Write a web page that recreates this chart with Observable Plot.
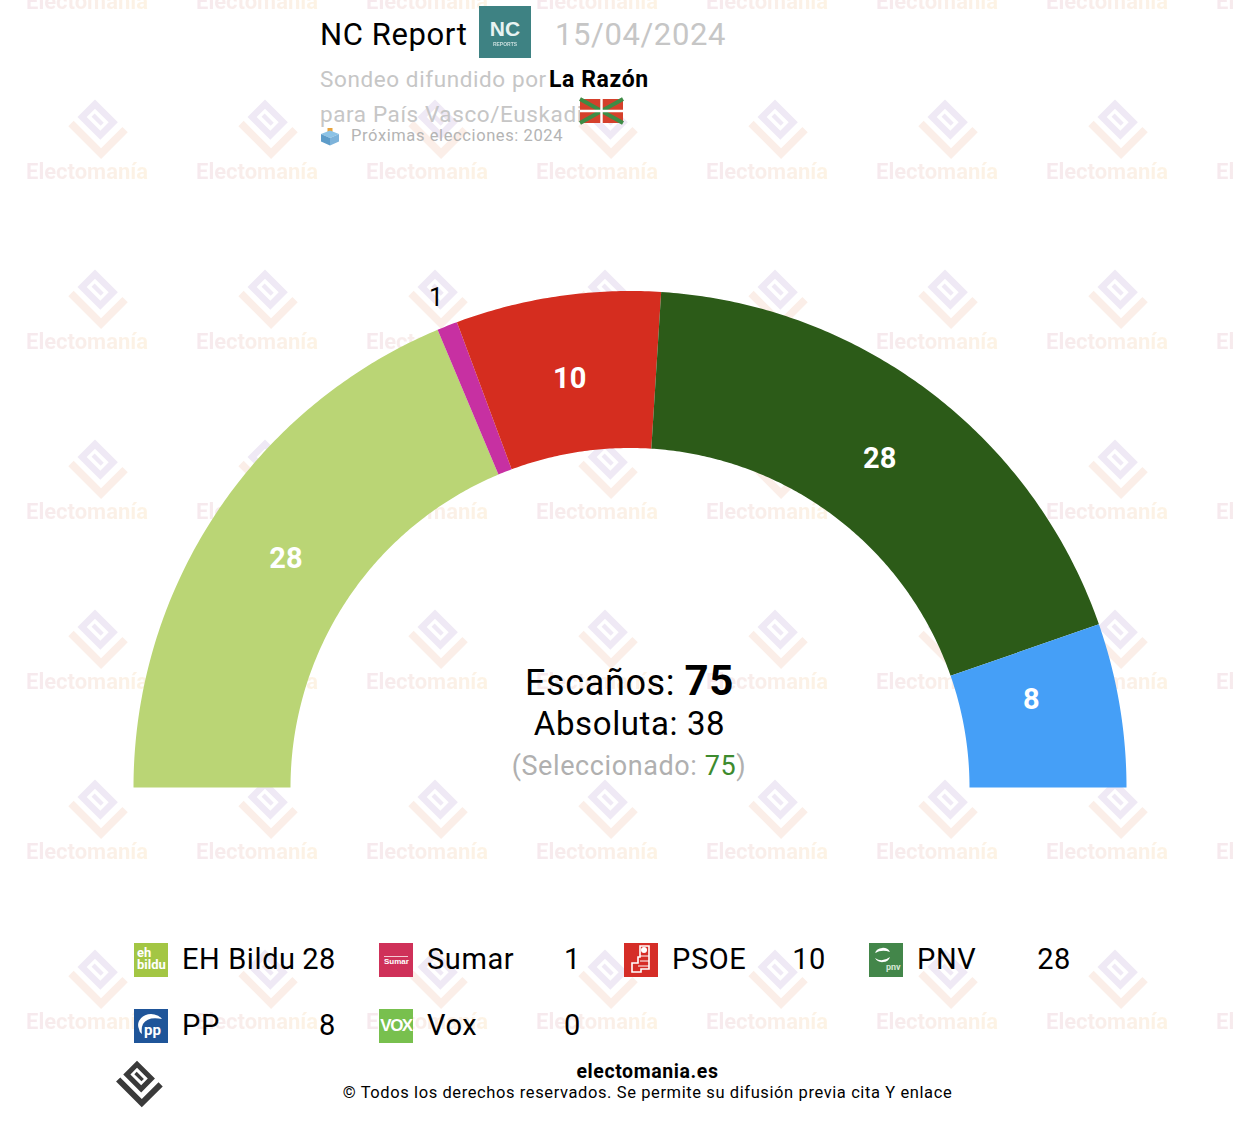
<!DOCTYPE html>
<html><head><meta charset="utf-8">
<script src="https://cdn.jsdelivr.net/npm/d3@7"></script>
<script src="https://cdn.jsdelivr.net/npm/@observablehq/plot@0.6"></script>
<style>
html,body{margin:0;padding:0;background:#fff;width:1234px;height:1128px;overflow:hidden;font-family:Roboto,sans-serif}
#page{position:relative;width:1234px;height:1128px;overflow:hidden}
.t{position:absolute;white-space:nowrap;line-height:1;letter-spacing:.6px}
.ic{position:absolute;width:34px;height:34px;color:#fff;overflow:hidden}
.wm{position:absolute;font-weight:700;font-size:22px;line-height:1;background:linear-gradient(90deg,#f6e9ee,#fdf3e4);-webkit-background-clip:text;background-clip:text;color:transparent;white-space:nowrap}
svg{overflow:visible}
</style></head><body><div id="page"></div>
<script>
const parties = ["EH Bildu","Sumar","PSOE","PNV","PP","Vox"];
const seats = [28,1,10,28,8,0];
const arcColors = ["#BAD575","#C730A2","#D52D1F","#2C5B18","#459FF7","#78C04E"];
const iconColors = ["#A3C644","#CF3159","#D52D27","#43864A","#1F5599","#78C04E"];
const totalSeats = 75, majority = 38, selected = 75;
const pollster = "NC Report", pollDate = "15/04/2024", outlet = "La Razón";
const region = "para País Vasco/Euskadi", nextElection = "Próximas elecciones: 2024";
const site = "electomania.es", rights = "© Todos los derechos reservados. Se permite su difusión previa cita Y enlace";

const page = document.getElementById("page");
function txt(s,x,y,size,color,opt={}){
  const d=document.createElement("div");d.className="t";d.textContent=s;
  d.style.cssText+=`font-size:${size}px;color:${color};top:${y}px;`+(opt.css||"");
  if(opt.anchor==="end"){d.style.right=(1234-x)+"px";}
  else if(opt.anchor==="middle"){d.style.left=x+"px";d.style.transform="translateX(-50%)";}
  else d.style.left=x+"px";
  page.appendChild(d);return d;
}
const logoSvg=(fill,accent)=>`<svg viewBox="0 0 52 52" width="100%" height="100%" style="display:block">
<g transform="rotate(45 26 26)"><path fill-rule="evenodd" fill="${fill}" d="M4 4H34V27H4ZM10 10V21H28V10Z"/><rect x="13" y="13.5" width="12" height="4" fill="${fill}"/>
<path fill="${accent}" d="M4 32H40V4H47V39H4Z"/></g></svg>`;
// watermark
for(let r=0;r<7;r++)for(let c=0;c<8;c++){
  const cx=95+170*c, ty=161+170*(r-1);
  const w=document.createElement("div");w.className="wm";w.textContent="Electomanía";w.style.left=(cx-69)+"px";w.style.top=ty+"px";page.appendChild(w);
  const l=document.createElement("div");l.style.cssText=`position:absolute;left:${cx-28}px;top:${ty-56}px;width:56px;height:56px`;l.innerHTML=logoSvg("#efe9f5","#fbeee8");page.appendChild(l);
}

// chart
const cx=629.5, cy=787, R=496.5, rInner=339.5/496.5;
let cum=0; const rows=[], labels=[];
parties.forEach((p,i)=>{
  const a0=cum/totalSeats*Math.PI; cum+=seats[i]; const a1=cum/totalSeats*Math.PI;
  if(!seats[i])return;
  const n=Math.max(2,Math.ceil((a1-a0)*120)); const pts=[];
  for(let k=0;k<=n;k++){const a=a0+(a1-a0)*k/n;pts.push({p,x:-Math.cos(a),y:Math.sin(a)});}
  for(let k=n;k>=0;k--){const a=a0+(a1-a0)*k/n;pts.push({p,x:-rInner*Math.cos(a),y:rInner*Math.sin(a)});}
  rows.push(...pts);
  const m=(a0+a1)/2; labels.push({p,v:seats[i],a:m,out:seats[i]<3});
});
const lab=l=>{const r=l.out?527/496.5:413/496.5;return {...l,x:-r*Math.cos(l.a),y:r*Math.sin(l.a)}};
const L=labels.map(lab);
const chart=Plot.plot({
  width:1234,height:1128,margin:0,
  style:{background:"transparent",position:"absolute",left:"0",top:"0",fontFamily:"Roboto"},
  x:{axis:null,domain:[-cx/R,(1234-cx)/R],range:[0,1234]},
  y:{axis:null,domain:[-(1128-cy)/R,cy/R],range:[1128,0]},
  color:{domain:parties,range:arcColors},
  marks:[
    Plot.line(rows,{x:"x",y:"y",z:"p",fill:"p",stroke:null,curve:"linear"}),
    Plot.text(L.filter(d=>!d.out&&d.v>=10),{x:"x",y:"y",text:"v",fill:"white",fontSize:29,fontWeight:700}),
    Plot.text(L.filter(d=>!d.out&&d.v<10),{x:"x",y:"y",text:"v",fill:"white",fontSize:29,fontWeight:700,dx:-6,dy:-19}),
    Plot.text(L.filter(d=>d.out),{x:"x",y:"y",text:"v",fill:"black",fontSize:25})
  ]
});
page.appendChild(chart);

// header
txt(pollster,320,19,31,"#000");
const nc=document.createElement("div");nc.className="ic";nc.style.cssText+="left:479px;top:6px;width:52px;height:52px;background:#3E8283;text-align:center;font-family:Arimo,'Liberation Sans',sans-serif;color:#e8f3f2";
nc.innerHTML='<div style="font-weight:700;font-size:21px;line-height:21px;margin-top:12px">NC</div><div style="font-weight:700;font-size:5px;line-height:6px;margin-top:2px;opacity:.8">REPORTS</div>';page.appendChild(nc);
txt(pollDate,555,19,31,"#c6c6c6");
txt("Sondeo difundido por",320,68,22.5,"#c6c6c6");
txt(outlet,549,68,23,"#000",{css:"font-weight:700;"});
txt(region,320,103,22.5,"#c6c6c6");
const flag=document.createElement("div");flag.style.cssText="position:absolute;left:580px;top:99px;width:43px;height:24px";
flag.innerHTML='<svg viewBox="0 0 43 24" width="43" height="24"><rect width="43" height="24" fill="#D5402B"/><path d="M0 0L43 24M43 0L0 24" stroke="#3E8C45" stroke-width="4"/><path d="M21.5 0V24M0 12H43" stroke="#fff" stroke-width="2.4"/></svg>';page.appendChild(flag);
const box=document.createElement("div");box.style.cssText="position:absolute;left:320px;top:127px;width:20px;height:20px";
box.innerHTML='<svg viewBox="0 0 20 20" width="20" height="20"><rect x="7.5" y="1" width="5" height="7" fill="#E8A33C"/><path d="M1 7L10 3.5L19 7L10 11Z" fill="#8CC3E6"/><path d="M1 7L10 11V18.5L1 14.5Z" fill="#5D9CC9"/><path d="M19 7L10 11V18.5L19 14.5Z" fill="#7DB3DA"/></svg>';page.appendChild(box);
txt(nextElection,351,128,16.5,"#b4b4b4");

// center
const e=txt("Escaños: ",629.5,660,36,"#000",{anchor:"middle"});
const b=document.createElement("b");b.textContent=totalSeats;b.style.cssText="font-size:42px";e.appendChild(b);
txt(`Absoluta: ${majority}`,629.5,707,33,"#000",{anchor:"middle"});
const s=txt("(Seleccionado: ",629,753,27,"#b0b0b0",{anchor:"middle"});
const g=document.createElement("span");g.textContent=selected;g.style.color="#3d8b2e";s.appendChild(g);s.appendChild(document.createTextNode(")"));

// legend
const colX=[134,379,624,869], rowY=[943,1009];
const iconHtml=[
 '<div style="font:700 13px/12px Roboto;padding:4px 0 0 3px">eh<br>bildu</div>',
 '<div style="text-align:center;font:700 8px/8px Arimo,\'Liberation Sans\';margin-top:13px;border-top:1px solid #f5c9d4;margin-left:5px;margin-right:5px;padding-top:1px">Sumar</div>',
 '<svg viewBox="0 0 34 34" width="34" height="34"><path d="M16 3H25V26H17V29H8V20H14V14H16Z" fill="none" stroke="#fff" stroke-width="1.6"/><circle cx="20" cy="7" r="3" fill="#fff"/><path d="M16 13H25M16 18H25M14 23H25" stroke="#fff"/></svg>',
 '<svg viewBox="0 0 34 34" width="34" height="34"><path d="M6 10A8 7 0 0 1 21 9Q13 6 6 10ZM6 15Q13 20 21 14A8 7 0 0 1 6 15Z" fill="#fff"/><text x="17" y="27" font-size="9" font-weight="700" fill="#d5e6d5" font-family="Roboto">pnv</text></svg>',
 '<svg viewBox="0 0 34 34" width="34" height="34"><path d="M5 20A13 11 0 0 1 28 10Q14 7 9 15Q7 19 8 25Q5 23 5 20Z" fill="#fff"/><text x="10" y="26" font-size="15" font-weight="700" fill="#fff" font-family="Roboto">pp</text></svg>',
 '<div style="text-align:center;font:700 17px/34px \'Liberation Sans\';letter-spacing:-1.5px">vox</div>'.replace("vox","VOX")
];
parties.forEach((p,i)=>{
  const c=i%4,r=Math.floor(i/4);
  const ic=document.createElement("div");ic.className="ic";ic.style.left=colX[c]+"px";ic.style.top=rowY[r]+"px";ic.style.background=iconColors[i];ic.innerHTML=iconHtml[i];page.appendChild(ic);
  txt(p,colX[c]+48,rowY[r]+2,29,"#000");
  txt(String(seats[i]),colX[c]+202,rowY[r]+2,29,"#000",{anchor:"end"});
});

// footer
const fl=document.createElement("div");fl.style.cssText="position:absolute;left:115px;top:1065px;width:44px;height:44px";fl.innerHTML=logoSvg("#3a3a3a","#3a3a3a");page.appendChild(fl);
txt(site,647.5,1062,19.5,"#000",{anchor:"middle",css:"font-weight:700;"});
txt(rights,647.5,1085,16.5,"#000",{anchor:"middle"});
</script></body></html>
